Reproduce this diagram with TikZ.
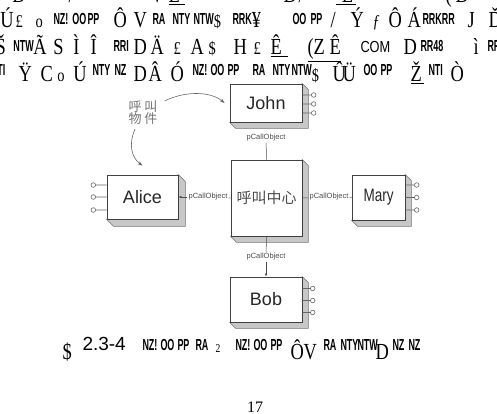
\documentclass[tikz,border=0pt]{standalone}
\usepackage{fontspec}
\usepackage{graphicx}
\setmainfont{Liberation Serif}
\setsansfont{Liberation Sans}
\newfontfamily\cjk{Noto Sans CJK SC}
\usetikzlibrary{calc,backgrounds,arrows.meta}
\newcommand\narise{3}
\newcommand\pc[2]{\rlap{\hspace*{#1pt}\scalebox{0.8}[1]{#2}}}
\newcommand\pcn[2]{\rlap{\hspace*{#1pt}#2}}
\newcommand\nrw[1]{\raisebox{\narise pt}{\scalebox{0.7}[1]{\sffamily\bfseries\fontsize{16}{16}\selectfont #1}}}
\newcommand\smg[1]{{\fontsize{18}{18}\selectfont #1}}
\tikzset{
  garb/.style={anchor=base west, inner sep=0, outer sep=0, font=\fontsize{23}{23}\selectfont},
  box/.style={draw=black!75, line width=0.8pt, fill=white, inner sep=0,
    font=\sffamily\fontsize{18}{18}\selectfont, text=black!85},
  side/.style={fill=black!22, draw=black!55, line width=0.5pt},
  pinline/.style={draw=black!60, line width=0.6pt},
  lbl/.style={font=\sffamily\fontsize{7.5}{7.5}\selectfont, text=black!70, inner sep=1pt},
  conn/.style={draw=black!70, line width=0.5pt},
  tip/.style={-{Latex[length=3pt,width=2.5pt]}},
  curv/.style={draw=black!60, line width=0.6pt, -{Stealth[length=5pt,width=3.5pt]}}
}
\begin{document}
\begin{tikzpicture}[x=1pt,y=-1pt]
\useasboundingbox (0,0) rectangle (497,414);
\clip (0,0) rectangle (497,414);

% garbled header text
\node[garb] (line0) at (0,3) {\pc{12}{D}\pc{68}{/}\pc{150}{V}\pc{168}{\underline{E\hspace{6pt}}}\pc{283}{D}\pc{298}{/}\pc{335}{\underline{\hspace{8pt}E\hspace{4pt}}}\pc{445}{(}\pc{455}{D}};
\node[garb] (line1) at (0,28) {\pc{0}{Ú}\pc{15}{\smg{£}}\pc{35}{\smg{o}}\pc{53}{\nrw{NZ!}}\pc{72}{\nrw{OO}}\pc{87}{\nrw{PP}}\pc{113}{Ô}\pc{133}{V}\pc{152}{\nrw{RA}}\pc{172}{\nrw{NTY}}\pc{193}{\nrw{NTW}\smg{\$}}\pc{232}{\nrw{RRK}¥}\pc{292}{\nrw{OO}}\pc{310}{\nrw{PP}}\pc{330}{/}\pc{350}{Ý}\pc{372}{\smg{\textit{ƒ}}}\pc{388}{Ô}\pc{407}{Á}\pc{422}{\nrw{RRKRR}}\pc{467}{J}\pc{488}{Ď}};
\node[garb] (line2) at (0,55) {\pc{-5}{Š}\pc{13}{\nrw{NTW}}\pc{33}{Ã}\pc{53}{S}\pc{73}{Ì}\pc{90}{Î}\pc{113}{\nrw{RRI}}\pc{133}{D}\pc{150}{Ä}\pc{173}{\smg{£}}\pc{190}{A}\pc{208}{\smg{\$}}\pc{233}{H}\pc{253}{\smg{£}}\pc{270}{\underline{Ê\hspace{8pt}}}\pc{307}{\underline{(Z\hspace{6pt}Ê}}\pc{360}{\raisebox{2pt}{\sffamily\fontsize{16}{16}\selectfont COM}}\pc{403}{D}\pc{420}{\nrw{RR48}}\pc{473}{ì}\pc{487}{\nrw{RF}}};
\node[garb] (line3) at (0,82) {\renewcommand\narise{6}\pc{-3}{\nrw{TI}}\pc{18}{Ÿ}\pc{40}{C}\pc{57}{\smg{o}}\pc{73}{Ú}\pc{92}{\nrw{NTY}}\pc{114}{\nrw{NZ}}\pc{133}{D}\pc{148}{Â}\pc{170}{Ó}\pc{192}{\nrw{NZ!}}\pc{210}{\nrw{OO}}\pc{227}{\nrw{PP}}\pc{252}{\nrw{RA}}\pc{272}{\nrw{NTY}}\pc{291}{\nrw{NTW}\smg{\$}}\pc{332}{Û}\pc{342}{Ü}\pc{363}{\nrw{OO}}\pc{380}{\nrw{PP}}\pc{410}{\underline{Ž\hspace{3pt}}}\pc{428}{\nrw{NTI}}\pc{450}{Ò}};

% boxes
\node[box, minimum width=72pt, minimum height=38pt] (john) at (266,103) {John};
\node[box, minimum width=71pt, minimum height=76pt] (center) at (266.5,198) {\cjk\fontsize{15}{15}\selectfont\color{black!70}呼叫中心};
\node[box, minimum width=71pt, minimum height=44pt] (alice) at (142.5,197) {Alice};
\node[box, minimum width=53pt, minimum height=45pt] (mary) at (378.5,197.5) {\scalebox{0.75}[1]{Mary}};
\node[box, minimum width=72pt, minimum height=45pt] (bob) at (266,299.5) {Bob};

\begin{scope}[on background layer]
\foreach \n/\d in {john/6,center/6,alice/7,mary/6,bob/6}
  \filldraw[side] (\n.north east) -- ++(\d,\d) -- ($(\n.south east)+(\d,\d)$) -- ($(\n.south west)+(\d,\d)$) -- (\n.south west) -- cycle;
\end{scope}

% pins
\foreach \dy in {-8,1,10}
  \draw[pinline] ($(john.east)+(0,\dy)$) -- ++(9,0) ++(2.3,0) circle[radius=2.3pt];
\foreach \dy in {-11,1,13}
  \draw[pinline] ($(bob.east)+(0,\dy)$) -- ++(8,0) ++(2.3,0) circle[radius=2.3pt];
\foreach \dy in {-12.5,0,12.5}
  \draw[pinline] ($(mary.east)+(0,\dy)$) -- ++(9,0) ++(2.3,0) circle[radius=2.3pt];
\foreach \dy in {-12,0,13}
  \draw[pinline] ($(alice.west)+(0,\dy)$) -- ++(-11,0) ++(-2.3,0) circle[radius=2.3pt];

% connector labels
\node[lbl] (l1) at (266,138) {pCallObject};
\node[lbl] (l2) at (208,197) {pCallObject};
\node[lbl] (l3) at (329,197) {pCallObject};
\node[lbl] (l4) at (266,257) {pCallObject};

\draw[conn] (l1) -- (center.north);
\draw[conn, tip] (l2) -- (alice.east);
\draw[conn] (l2) -- (center.west);
\draw[conn] (center.east) -- (l3);
\draw[conn] (l3) -- (mary.west);
\draw[conn] (center.south) -- (l4);
\draw[conn, tip] (l4) -- (bob.north);

% call object label and curved arrows
\node[text=black!55, font=\cjk\fontsize{13}{12}\selectfont, align=center, inner sep=0] (obj) at (143,113) {呼\kern3pt叫\\物\kern3pt件};
\draw[curv] ([xshift=7pt]obj.north east) .. controls (185,91) and (210,91) .. ([xshift=-5pt]john.west);
\draw[curv] ([xshift=-8pt,yshift=-4pt]obj.south) .. controls (128,145) and (132,158) .. ([yshift=9pt]alice.north);

% caption
\node[garb] (caption) at (0,359) {\renewcommand\narise{9}\pc{62}{\$}\pcn{82}{\raisebox{9pt}{\sffamily\fontsize{19}{19}\selectfont 2.3-4}}\pc{142}{\nrw{NZ!}}\pc{160}{\nrw{OO}}\pc{177}{\nrw{PP}}\pc{195}{\nrw{RA}}\pc{215}{\raisebox{7pt}{\fontsize{12}{12}\selectfont 2}}\pc{235}{\nrw{NZ!}}\pc{253}{\nrw{OO}}\pc{270}{\nrw{PP}}\pc{290}{Ô}\pc{303}{V}\pc{323}{\nrw{RA}}\pc{340}{\nrw{NTY}}\pc{357}{\nrw{NTW}}\pc{375}{D}\pc{392}{\nrw{NZ}}\pc{408}{\nrw{NZ}}};

\node[anchor=base, inner sep=0, font=\fontsize{16}{16}\selectfont] (pagenum) at (255,412) {17};
\end{tikzpicture}
\end{document}
